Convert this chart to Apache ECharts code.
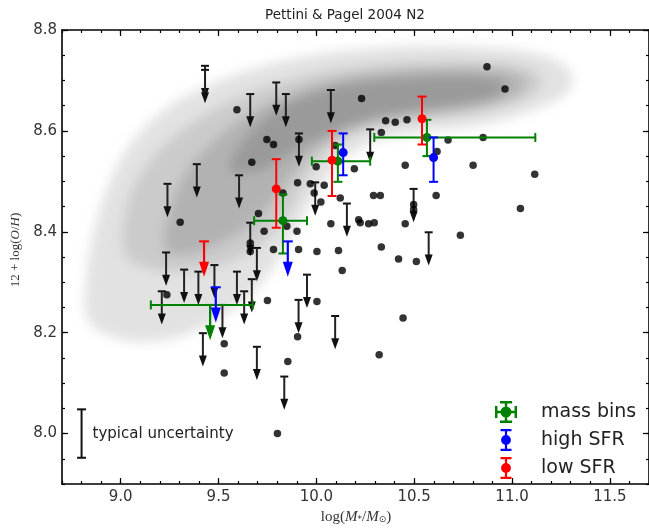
<!DOCTYPE html>
<html>
<head>
<meta charset="utf-8">
<script src="https://cdn.jsdelivr.net/npm/echarts@6/dist/echarts.min.js"></script>
<style>
  html, body { margin: 0; padding: 0; background: #fff; }
  #wrap { position: relative; width: 649px; height: 528px; }
  #cloud, #chart { position: absolute; left: 0; top: 0; width: 649px; height: 528px; }
  /* the comparison sample is a smooth density, so its layer is softened */
  #cloud { filter: blur(6px); }
</style>
</head>
<body>
<div id="wrap">
  <div id="cloud"></div>
  <div id="chart"></div>
</div>
<script>
// ---- SDSS comparison sample: nested density contours in (log M*, 12+log(O/H)) ----
const cloudOuter = [[8.833,8.225],[8.823,8.305],[8.853,8.384],[8.910,8.464],[8.986,8.534],[9.089,8.593],[9.227,8.643],[9.406,8.683],[9.636,8.718],[9.917,8.746],[10.224,8.762],[10.531,8.768],[10.838,8.766],[11.094,8.756],[11.237,8.738],[11.309,8.707],[11.273,8.673],[11.145,8.647],[10.966,8.623],[10.761,8.607],[10.531,8.597],[10.327,8.583],[10.173,8.553],[10.071,8.514],[9.979,8.464],[9.892,8.404],[9.790,8.335],[9.662,8.275],[9.508,8.229],[9.329,8.196],[9.150,8.182],[8.971,8.190]];
const cloudMiddle = [[9.022,8.355],[9.022,8.434],[9.089,8.504],[9.201,8.563],[9.380,8.619],[9.610,8.667],[9.892,8.703],[10.199,8.726],[10.531,8.736],[10.838,8.736],[11.043,8.728],[11.145,8.707],[11.119,8.677],[10.966,8.651],[10.761,8.633],[10.531,8.623],[10.327,8.611],[10.148,8.587],[10.030,8.551],[9.943,8.504],[9.866,8.444],[9.764,8.394],[9.636,8.355],[9.457,8.329],[9.278,8.321],[9.125,8.329]];
const cloudInner = [[9.227,8.365],[9.252,8.444],[9.329,8.514],[9.457,8.573],[9.636,8.627],[9.866,8.673],[10.122,8.703],[10.429,8.718],[10.736,8.722],[10.966,8.717],[11.068,8.699],[11.017,8.671],[10.864,8.651],[10.634,8.637],[10.403,8.625],[10.224,8.609],[10.071,8.583],[9.943,8.544],[9.841,8.494],[9.738,8.444],[9.610,8.400],[9.457,8.369],[9.329,8.355]];
const cloudCore = [[9.559,8.524],[9.636,8.583],[9.790,8.639],[10.020,8.679],[10.275,8.699],[10.582,8.709],[10.838,8.707],[10.966,8.693],[10.915,8.669],[10.736,8.653],[10.480,8.639],[10.275,8.623],[10.096,8.599],[9.943,8.573],[9.815,8.544],[9.687,8.520]];
const cloudLevels = [cloudOuter, cloudMiddle, cloudInner, cloudCore];

// ---- individual galaxies: detections and N2 upper limits ----
const detections = [[10.872,8.727],[10.964,8.683],[10.231,8.664],[9.594,8.642],[10.354,8.620],[10.403,8.617],[10.463,8.622],[10.332,8.597],[10.673,8.582],[10.852,8.587],[10.617,8.559],[10.096,8.571],[9.747,8.583],[9.781,8.573],[9.670,8.538],[9.911,8.583],[9.999,8.529],[10.194,8.525],[10.454,8.532],[10.801,8.532],[11.116,8.514],[9.904,8.497],[9.969,8.495],[10.040,8.492],[9.989,8.477],[10.023,8.459],[10.122,8.467],[10.292,8.472],[10.327,8.472],[10.612,8.472],[10.497,8.454],[10.497,8.444],[11.043,8.446],[9.829,8.477],[9.704,8.436],[9.304,8.419],[9.733,8.401],[9.849,8.411],[9.901,8.401],[10.074,8.416],[10.216,8.424],[10.224,8.418],[10.267,8.416],[10.296,8.418],[10.454,8.416],[10.736,8.393],[9.781,8.365],[9.909,8.365],[10.003,8.361],[10.113,8.363],[10.332,8.370],[10.420,8.346],[10.511,8.341],[10.132,8.323],[9.662,8.378],[9.662,8.361],[9.750,8.264],[10.003,8.262],[10.443,8.229],[10.321,8.156],[9.904,8.192],[9.854,8.143],[9.529,8.178],[9.529,8.120],[9.801,8.000],[9.236,8.275]];
const upperLimits = [[9.431,8.729],[9.431,8.721],[9.662,8.673],[9.795,8.696],[9.844,8.673],[10.074,8.681],[9.911,8.595],[10.275,8.603],[9.239,8.495],[9.389,8.534],[9.605,8.512],[10.156,8.456],[9.994,8.498],[10.497,8.485],[10.574,8.399],[9.232,8.359],[9.324,8.325],[9.397,8.321],[9.479,8.334],[9.594,8.321],[9.210,8.282],[9.631,8.282],[9.670,8.306],[9.662,8.418],[9.696,8.368],[9.420,8.199],[9.696,8.172],[9.952,8.315],[9.909,8.265],[9.836,8.113],[10.096,8.233],[9.520,8.255]];

// ---- stacked spectra ----
const massBinMass     = [9.457, 9.829, 10.110, 10.565];
const massBinMassLow  = [9.154, 9.682, 9.977, 10.296];
const massBinMassHigh = [9.675, 9.952, 10.275, 11.119];
const massBinOH       = [8.255, 8.422, 8.540, 8.587];
const massBinOHLow    = [null, 8.357, 8.499, 8.550];
const massBinOHHigh   = [null, 8.474, 8.573, 8.622];
const massBinIsLimit  = [true, false, false, false];

const highSfrMass     = [9.486, 9.854, 10.137, 10.599];
const highSfrOH       = [8.290, 8.381, 8.557, 8.547];
const highSfrOHLow    = [null, null, 8.512, 8.499];
const highSfrOHHigh   = [null, null, 8.595, 8.587];
const highSfrIsLimit  = [true, true, false, false];

const lowSfrMass      = [9.426, 9.795, 10.080, 10.540];
const lowSfrOH        = [8.381, 8.485, 8.542, 8.624];
const lowSfrOHLow     = [null, 8.408, 8.471, 8.573];
const lowSfrOHHigh    = [null, 8.544, 8.600, 8.668];
const lowSfrIsLimit   = [true, false, false, false];

// typical per-galaxy uncertainty, drawn at (8.8, 8.0)
const typicalUncertainty = [[8.8, 8.0, 0.048]];

const xMajorTicks = [9.0, 9.5, 10.0, 10.5, 11.0, 11.5];
const yMajorTicks = [8.0, 8.2, 8.4, 8.6, 8.8];

// ---- styling constants ----
const X_MIN = 8.7, X_MAX = 11.7, Y_MIN = 7.9, Y_MAX = 8.8;
const GRID = { left: 62, top: 30, width: 588, height: 454 };
const LIMIT_LEN = 0.066;      // length of an upper-limit arrow in dex
const BIN_LIMIT_LEN = 0.070;
const GREEN = '#008000', BLUE = '#0000ff', RED = '#ff0000';
const cloudShades = ['rgba(125,125,125,0.22)', 'rgba(120,120,120,0.22)', 'rgba(110,110,110,0.26)', 'rgba(100,100,100,0.30)'];

function seg(x1, y1, x2, y2, color, width) {
  return { type: 'line', shape: { x1, y1, x2, y2 }, style: { stroke: color, lineWidth: width } };
}

function binRows(mass, massLow, massHigh, oh, ohLow, ohHigh, isLimit) {
  return mass.map((m, i) => [
    m, oh[i],
    massLow ? massLow[i] : m,
    massHigh ? massHigh[i] : m,
    ohLow[i] == null ? oh[i] : ohLow[i],
    ohHigh[i] == null ? oh[i] : ohHigh[i],
    isLimit[i] ? 1 : 0
  ]);
}

function renderBin(color) {
  return function (params, api) {
    const x = api.value(0), y = api.value(1);
    const c = api.coord([x, y]);
    const kids = [];
    const xlo = api.value(2), xhi = api.value(3);
    if (xhi > xlo) {
      const a = api.coord([xlo, y]), b = api.coord([xhi, y]);
      kids.push(seg(a[0], a[1], b[0], b[1], color, 2));
      kids.push(seg(a[0], a[1] - 4.5, a[0], a[1] + 4.5, color, 2));
      kids.push(seg(b[0], b[1] - 4.5, b[0], b[1] + 4.5, color, 2));
    }
    if (api.value(6)) {
      const tip = api.coord([x, y - BIN_LIMIT_LEN]);
      kids.push(seg(c[0] - 5, c[1], c[0] + 5, c[1], color, 2));
      kids.push(seg(c[0], c[1], c[0], tip[1] - 12, color, 2.2));
      kids.push({ type: 'polygon', shape: { points: [[c[0] - 5, tip[1] - 15], [c[0] + 5, tip[1] - 15], [c[0], tip[1]]] }, style: { fill: color } });
    } else {
      const lo = api.coord([x, api.value(4)]), hi = api.coord([x, api.value(5)]);
      kids.push(seg(c[0], lo[1], c[0], hi[1], color, 2));
      kids.push(seg(c[0] - 4.5, lo[1], c[0] + 4.5, lo[1], color, 2));
      kids.push(seg(c[0] - 4.5, hi[1], c[0] + 4.5, hi[1], color, 2));
      kids.push({ type: 'circle', shape: { cx: c[0], cy: c[1], r: 4.5 }, style: { fill: color } });
    }
    return { type: 'group', children: kids };
  };
}

function renderLimit(params, api) {
  const x = api.value(0), y = api.value(1);
  const c = api.coord([x, y]);
  const tip = api.coord([x, y - LIMIT_LEN]);
  return {
    type: 'group',
    children: [
      seg(c[0] - 4, c[1], c[0] + 4, c[1], '#111', 2),
      seg(c[0], c[1], c[0], tip[1] - 9, '#222', 2),
      { type: 'polygon', shape: { points: [[c[0] - 4, tip[1] - 11], [c[0] + 4, tip[1] - 11], [c[0], tip[1]]] }, style: { fill: '#111' } }
    ]
  };
}

function renderCloud(params, api) {
  const level = api.value(2);
  return {
    type: 'polygon',
    silent: true,
    shape: { points: cloudLevels[level].map(p => api.coord(p)), smooth: 0.4 },
    style: { fill: cloudShades[level] }
  };
}

function renderTypical(params, api) {
  const x = api.value(0), y = api.value(1), e = api.value(2);
  const lo = api.coord([x, y - e]), hi = api.coord([x, y + e]), c = api.coord([x, y]);
  return {
    type: 'group',
    children: [
      seg(lo[0], lo[1], hi[0], hi[1], '#111', 2),
      seg(lo[0] - 4.5, lo[1], lo[0] + 4.5, lo[1], '#111', 2),
      seg(hi[0] - 4.5, hi[1], hi[0] + 4.5, hi[1], '#111', 2),
      { type: 'text', style: { x: c[0] + 11, y: c[1] + 1, text: 'typical uncertainty', fill: '#222', font: '15px "DejaVu Sans"', textAlign: 'left', textVerticalAlign: 'middle' } }
    ]
  };
}

const tickLine = { color: '#000', width: 1.2 };
const frameLine = { show: true, onZero: false, lineStyle: { color: '#000', width: 1.6 } };

function majorAxis(kind, position, ticks, min, max, withLabels) {
  return {
    type: 'value', position, min, max, scale: true,
    axisLine: frameLine,
    splitLine: { show: false },
    axisTick: { show: true, inside: true, length: 6, customValues: ticks, lineStyle: tickLine },
    axisLabel: withLabels ? {
      show: true, customValues: ticks, formatter: v => Number(v).toFixed(1),
      fontFamily: 'DejaVu Sans', fontSize: 15, color: '#333', margin: kind === 'x' ? 6 : 5
    } : { show: false }
  };
}
function minorAxis(position, min, max, step) {
  return {
    type: 'value', position, min, max, interval: step, scale: true,
    axisLine: { show: false, onZero: false },
    splitLine: { show: false },
    axisTick: { show: true, inside: true, length: 3, lineStyle: tickLine },
    axisLabel: { show: false }
  };
}

// ---- soft background layer: the comparison-sample density ----
const cloudChart = echarts.init(document.getElementById('cloud'), null, { renderer: 'canvas' });
cloudChart.setOption({
  animation: false,
  grid: GRID,
  xAxis: { type: 'value', min: X_MIN, max: X_MAX, show: false },
  yAxis: { type: 'value', min: Y_MIN, max: Y_MAX, show: false },
  series: [{
    name: 'SDSS', type: 'custom', silent: true,
    renderItem: renderCloud,
    encode: { x: 0, y: 1 },
    data: cloudLevels.map((poly, i) => [poly[0][0], poly[0][1], i])
  }]
});

const massBinPath = 'path://M2 9h16v2H2z M9 2h2v16H9z M5 1h10v2H5z M5 17h10v2H5z M1 5h2v10H1z M17 5h2v10h-2z M5.5 10a4.5 4.5 0 1 1 9 0a4.5 4.5 0 1 1 -9 0z';
const sfrPath = 'path://M9 1h2v18H9z M5 0h10v2H5z M5 18h10v2H5z M5.5 10a4.5 4.5 0 1 1 9 0a4.5 4.5 0 1 1 -9 0z';

// ---- main layer: axes, galaxies, stacks, legend ----
const chart = echarts.init(document.getElementById('chart'), null, { renderer: 'canvas' });
chart.setOption({
  animation: false,
  backgroundColor: 'transparent',
  grid: GRID,
  xAxis: [
    majorAxis('x', 'bottom', xMajorTicks, X_MIN, X_MAX, true),
    minorAxis('bottom', X_MIN, X_MAX, 0.1),
    majorAxis('x', 'top', xMajorTicks, X_MIN, X_MAX, false),
    minorAxis('top', X_MIN, X_MAX, 0.1)
  ],
  yAxis: [
    majorAxis('y', 'left', yMajorTicks, Y_MIN, Y_MAX, true),
    minorAxis('left', Y_MIN, Y_MAX, 0.05),
    majorAxis('y', 'right', yMajorTicks, Y_MIN, Y_MAX, false),
    minorAxis('right', Y_MIN, Y_MAX, 0.05)
  ],
  legend: {
    orient: 'vertical', left: 490, top: 396,
    itemWidth: 60, itemHeight: 22, itemGap: 6,
    selectedMode: false,
    textStyle: { fontFamily: 'DejaVu Sans', fontSize: 19, color: '#222' },
    data: [
      { name: 'mass bins', icon: massBinPath },
      { name: 'high SFR', icon: sfrPath },
      { name: 'low SFR', icon: sfrPath }
    ]
  },
  graphic: [
    { type: 'text', x: 345, y: 15, silent: true,
      style: { text: 'Pettini & Pagel 2004 N2', font: '13.5px "DejaVu Sans"', fill: '#222', textAlign: 'center', textVerticalAlign: 'middle' } },
    { type: 'text', x: 356, y: 517, silent: true,
      style: {
        text: '{n|log(}{i|M}{s|*}{n|/}{i|M}{s|⊙}{n|)}',
        textAlign: 'center', textVerticalAlign: 'middle',
        rich: {
          n: { fontFamily: 'Liberation Serif', fontSize: 15, fill: '#333' },
          i: { fontFamily: 'Liberation Serif', fontStyle: 'italic', fontSize: 15, fill: '#333' },
          s: { fontFamily: 'DejaVu Sans', fontSize: 9, fill: '#333', verticalAlign: 'bottom' }
        }
      } },
    { type: 'text', x: 16, y: 250, rotation: Math.PI / 2, silent: true,
      style: {
        text: '{n|12 + log(}{i|O}{n|/}{i|H}{n|)}',
        textAlign: 'center', textVerticalAlign: 'middle',
        rich: {
          n: { fontFamily: 'Liberation Serif', fontSize: 13, fill: '#333' },
          i: { fontFamily: 'Liberation Serif', fontStyle: 'italic', fontSize: 13, fill: '#333' }
        }
      } }
  ],
  series: [
    {
      name: 'detections', type: 'scatter', z: 3, silent: true,
      symbol: 'circle', symbolSize: 7.5,
      itemStyle: { color: '#000' },
      data: detections
    },
    {
      name: 'upper limits', type: 'custom', z: 3, silent: true,
      renderItem: renderLimit,
      encode: { x: 0, y: 1 },
      data: upperLimits
    },
    {
      name: 'typical', type: 'custom', z: 3, silent: true,
      renderItem: renderTypical,
      encode: { x: 0, y: 1 },
      data: typicalUncertainty
    },
    {
      name: 'mass bins', type: 'custom', z: 5, silent: true,
      itemStyle: { color: GREEN },
      renderItem: renderBin(GREEN),
      encode: { x: 0, y: 1 },
      data: binRows(massBinMass, massBinMassLow, massBinMassHigh, massBinOH, massBinOHLow, massBinOHHigh, massBinIsLimit)
    },
    {
      name: 'high SFR', type: 'custom', z: 6, silent: true,
      itemStyle: { color: BLUE },
      renderItem: renderBin(BLUE),
      encode: { x: 0, y: 1 },
      data: binRows(highSfrMass, null, null, highSfrOH, highSfrOHLow, highSfrOHHigh, highSfrIsLimit)
    },
    {
      name: 'low SFR', type: 'custom', z: 7, silent: true,
      itemStyle: { color: RED },
      renderItem: renderBin(RED),
      encode: { x: 0, y: 1 },
      data: binRows(lowSfrMass, null, null, lowSfrOH, lowSfrOHLow, lowSfrOHHigh, lowSfrIsLimit)
    }
  ]
});
</script>
</body>
</html>
